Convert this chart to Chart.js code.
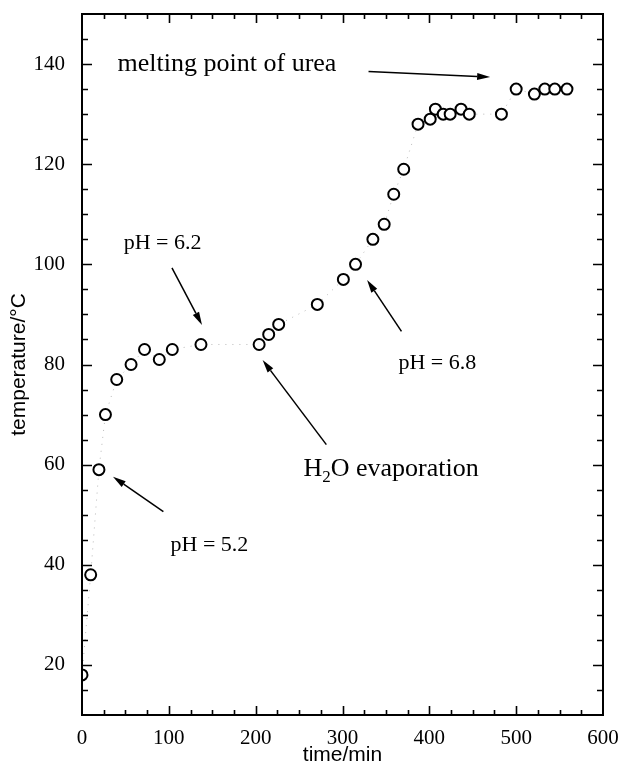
<!DOCTYPE html>
<html>
<head>
<meta charset="utf-8">
<script src="https://cdn.jsdelivr.net/npm/chart.js@4"></script>
<style>
  html, body { margin: 0; background: #fff; }
</style>
</head>
<body>
<canvas id="tempChart" width="621" height="773"></canvas>
<script>
// Heating run: temperature of the melt against time
const timeMin = [0, 10, 19.5, 27, 40, 56.5, 72, 89, 104, 137, 204, 215, 226.5, 271, 301, 315, 335, 348, 359, 370.5, 387, 401, 407, 416, 424, 436.5, 446, 483, 500, 521, 533, 544.5, 558.5];
const tempC = [18, 38, 59, 70, 77, 80, 83, 81, 83, 84, 84, 86, 88, 92, 97, 100, 105, 108, 114, 119, 128, 129, 131, 130, 130, 131, 130, 130, 135, 134, 135, 135, 135];
const yTickValues = [20, 40, 60, 80, 100, 120, 140];

// Callouts in data coordinates: label anchor (left, middle), arrow tail -> head
const callouts = [
  { text: "melting point of urea", at: [41, 140], size: 26, from: [330, 138.5], to: [470, 137.4] },
  { text: "pH = 6.2", at: [48, 104.2], size: 22, from: [103.6, 99.3], to: [138.2, 87.9] },
  { text: "pH = 5.2", at: [102, 44], size: 22, from: [93.7, 50.6], to: [35.7, 57.6] },
  { text: "pH = 6.8", at: [364.4, 80.2], size: 22, from: [367.9, 86.6], to: [328.3, 96.9] },
  { text: "H|2|O evaporation", at: [255, 59], size: 26, from: [281.4, 64], to: [208, 80.9] },
];

const SERIF = '"Liberation Serif", "Times New Roman", serif';
const SANS = '"Liberation Sans", Arial, sans-serif';

// Closed frame with inward ticks on all four sides
const framePlugin = {
  id: "frame",
  afterDatasetsDraw(chart) {
    const { ctx, chartArea: a, scales: { x, y } } = chart;
    ctx.save();
    ctx.strokeStyle = "#000";
    ctx.lineWidth = 2;
    ctx.strokeRect(a.left, a.top, a.right - a.left, a.bottom - a.top);
    ctx.lineWidth = 1.6;
    ctx.beginPath();
    for (let v = 25; v < 600; v += 25) {
      const px = Math.round(x.getPixelForValue(v)) + 0.5;
      const len = v % 100 === 0 ? 9 : 5;
      ctx.moveTo(px, a.bottom); ctx.lineTo(px, a.bottom - len);
      ctx.moveTo(px, a.top); ctx.lineTo(px, a.top + len);
    }
    for (let v = 15; v < 150; v += 5) {
      const py = Math.round(y.getPixelForValue(v)) + 0.5;
      const len = v % 20 === 0 ? 10 : 6;
      ctx.moveTo(a.left, py); ctx.lineTo(a.left + len, py);
      ctx.moveTo(a.right, py); ctx.lineTo(a.right - len, py);
    }
    ctx.stroke();
    ctx.restore();
  },
};

function drawArrow(ctx, x1, y1, x2, y2) {
  const ang = Math.atan2(y2 - y1, x2 - x1);
  const head = 13, half = 3.5;
  const bx = x2 - head * Math.cos(ang), by = y2 - head * Math.sin(ang);
  ctx.beginPath();
  ctx.moveTo(x1, y1);
  ctx.lineTo(bx, by);
  ctx.stroke();
  ctx.beginPath();
  ctx.moveTo(x2, y2);
  ctx.lineTo(bx + half * Math.sin(ang), by - half * Math.cos(ang));
  ctx.lineTo(bx - half * Math.sin(ang), by + half * Math.cos(ang));
  ctx.closePath();
  ctx.fill();
}

// Text with "|" marking a subscript run
function drawRichText(ctx, str, px, py, size) {
  const parts = str.split("|");
  let cx = px;
  parts.forEach((part, i) => {
    const sub = i % 2 === 1;
    ctx.font = (sub ? Math.round(size * 0.65) : size) + "px " + SERIF;
    ctx.fillText(part, cx, sub ? py + size * 0.3 : py);
    cx += ctx.measureText(part).width;
  });
}

const calloutPlugin = {
  id: "callouts",
  afterDraw(chart) {
    const { ctx, scales: { x, y } } = chart;
    ctx.save();
    ctx.fillStyle = "#000";
    ctx.strokeStyle = "#000";
    ctx.lineWidth = 1.5;
    ctx.textAlign = "left";
    ctx.textBaseline = "middle";
    callouts.forEach((c) => {
      drawRichText(ctx, c.text, x.getPixelForValue(c.at[0]), y.getPixelForValue(c.at[1]), c.size);
      drawArrow(ctx,
        x.getPixelForValue(c.from[0]), y.getPixelForValue(c.from[1]),
        x.getPixelForValue(c.to[0]), y.getPixelForValue(c.to[1]));
    });
    ctx.restore();
  },
};

new Chart(document.getElementById("tempChart"), {
  type: "scatter",
  data: {
    datasets: [{
      data: timeMin.map((t, i) => ({ x: t, y: tempC[i] })),
      showLine: true,
      borderColor: "rgba(0,0,0,0.28)",
      borderDash: [1, 6],
      borderWidth: 1,
      pointStyle: "circle",
      pointRadius: 5.5,
      pointBorderWidth: 2,
      pointBorderColor: "#000",
      pointBackgroundColor: "#fff",
    }],
  },
  options: {
    responsive: false,
    devicePixelRatio: 1,
    animation: false,
    layout: { padding: { left: 0, top: 14, right: 18, bottom: 0 } },
    plugins: { legend: { display: false }, tooltip: { enabled: false } },
    scales: {
      x: {
        type: "linear",
        min: 0,
        max: 600,
        grid: { display: false },
        border: { display: false },
        ticks: { stepSize: 100, color: "#000", padding: 3, font: { family: SERIF, size: 21 } },
        title: { display: true, text: "time/min", color: "#000", padding: { top: 0, bottom: 5 }, font: { family: SANS, size: 21 } },
        afterFit(scale) {
          scale.height = 58;
          scale.paddingLeft = 0;
          scale.paddingRight = 0;
        },
      },
      y: {
        type: "linear",
        min: 10,
        max: 150,
        grid: { display: false },
        border: { display: false },
        afterBuildTicks(scale) { scale.ticks = yTickValues.map((v) => ({ value: v })); },
        ticks: { color: "#000", padding: 9, font: { family: SERIF, size: 21 } },
        title: { display: true, text: "temperature/°C", color: "#000", padding: { top: 7, bottom: 0 }, font: { family: SANS, size: 21 } },
        afterFit(scale) {
          scale.width = 82;
          scale.paddingTop = 0;
          scale.paddingBottom = 0;
        },
      },
    },
  },
  plugins: [framePlugin, calloutPlugin],
});
</script>
</body>
</html>
